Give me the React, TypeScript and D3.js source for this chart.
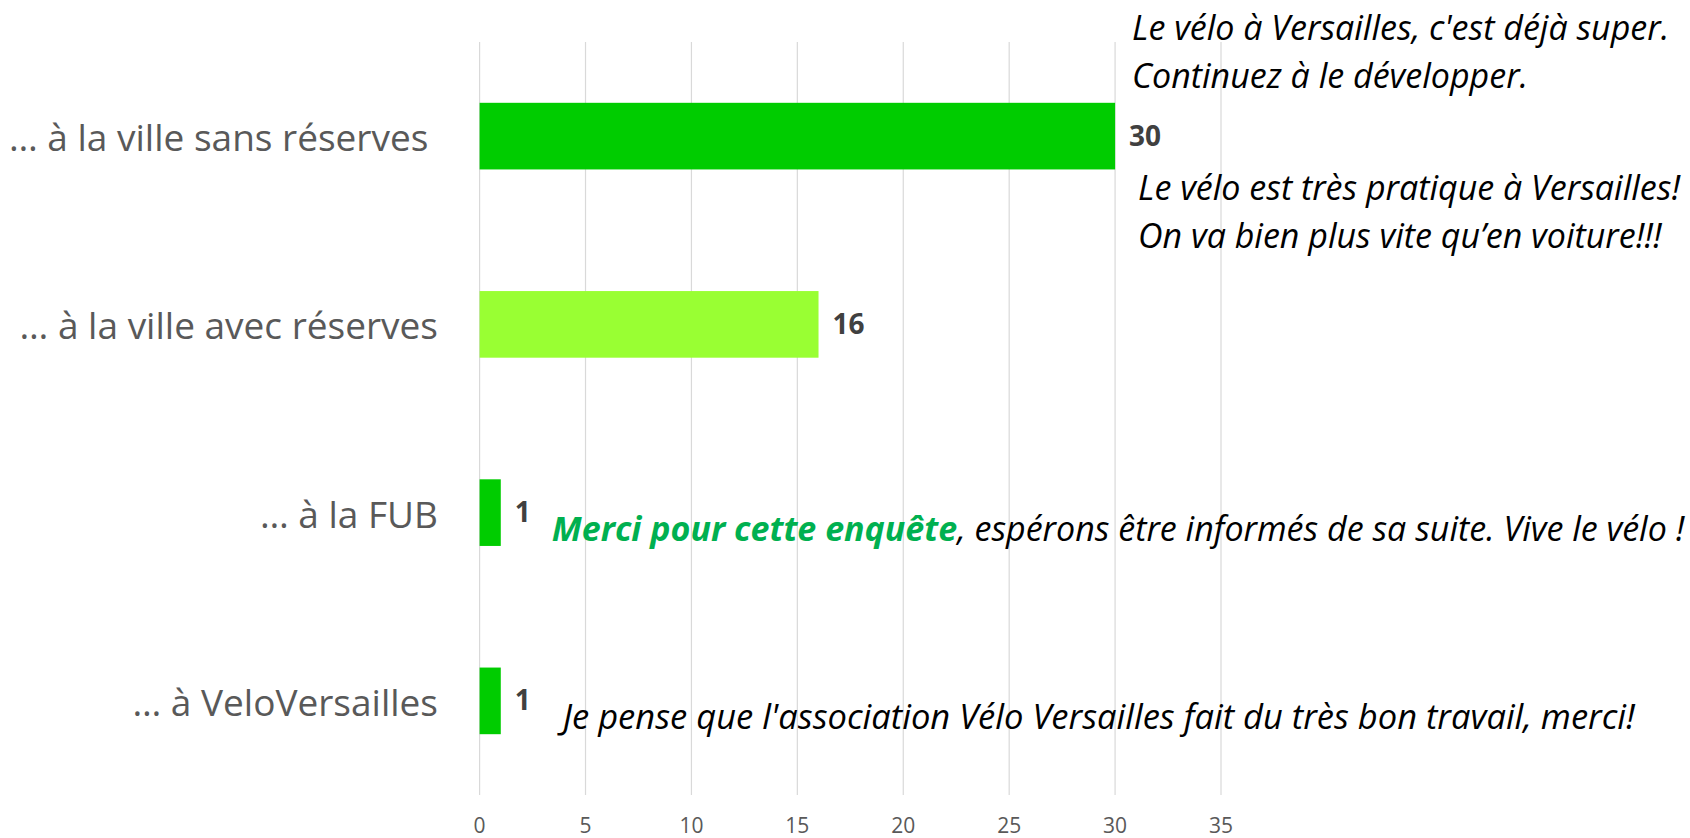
import React from "react";
import * as d3 from "d3";

const categories = [
  "… à la ville sans réserves\u00A0",
  "… à la ville avec réserves",
  "… à la FUB",
  "… à VeloVersailles",
];
const values = [30, 16, 1, 1];
const barColors = ["#00CC00", "#99FF33", "#00CC00", "#00CC00"];
const xTicks = [0, 5, 10, 15, 20, 25, 30, 35];

const comment1 = ["Le vélo à Versailles, c'est déjà super.", "Continuez à le développer."];
const comment2 = ["Le vélo est très pratique à Versailles!", "On va bien plus vite qu’en voiture!!!"];
const comment3Green = "Merci pour cette enquête";
const comment3Rest = ", espérons être informés de sa suite. Vive le vélo !";
const comment4 = "Je pense que l'association Vélo Versailles fait du très bon travail, merci!";

const W = 1690;
const H = 838;
const FONT = "'Open Sans', sans-serif";

export default function App() {
  const x = d3.scaleLinear().domain([0, 35]).range([479.6, 1221]);
  const y = d3
    .scaleBand<string>()
    .domain(categories)
    .range([42, 795])
    .paddingInner(0.646)
    .paddingOuter(0.323);
  const bw = y.bandwidth();
  const cy = (i: number) => (y(categories[i]) as number) + bw / 2;

  return (
    <svg
      width={W}
      height={H}
      style={{ position: "absolute", left: 0, top: 0, background: "#fff" }}
      fontFamily={FONT}
    >
      {xTicks.map((t) => (
        <line key={"g" + t} x1={x(t)} x2={x(t)} y1={42} y2={795} stroke="#d9d9d9" strokeWidth={1.2} />
      ))}
      {xTicks.map((t) => (
        <text key={"t" + t} x={x(t)} y={827} textAnchor="middle" dominantBaseline="middle" fontSize={21} fill="#595959">
          {t}
        </text>
      ))}
      {categories.map((c, i) => (
        <g key={c}>
          <rect x={x(0)} y={y(c)} width={x(values[i]) - x(0)} height={bw} fill={barColors[i]} />
          <text
            x={438}
            y={cy(i) + 5}
            textAnchor="end"
            dominantBaseline="middle"
            fontSize={37}
            fill="#595959"
            style={{ whiteSpace: "pre" }}
          >
            {c}
          </text>
          <text
            x={x(values[i]) + 14}
            y={cy(i) + 2}
            dominantBaseline="middle"
            fontSize={28}
            fontWeight="bold"
            fill="#404040"
          >
            {values[i]}
          </text>
        </g>
      ))}
      <g fontStyle="italic" fontSize={34} fill="#000">
        {comment1.map((s, k) => (
          <text key={"c1" + k} x={x(values[0]) + 17} y={cy(0) - 105 + k * 47.6} dominantBaseline="middle">
            {s}
          </text>
        ))}
        {comment2.map((s, k) => (
          <text key={"c2" + k} x={x(values[0]) + 23} y={cy(0) + 54.7 + k * 47.6} dominantBaseline="middle">
            {s}
          </text>
        ))}
        <text x={x(values[2]) + 51} y={cy(2) + 19.4} dominantBaseline="middle">
          <tspan fill="#00B050" fontWeight="bold">{comment3Green}</tspan>
          <tspan>{comment3Rest}</tspan>
        </text>
        <text x={x(values[3]) + 62} y={cy(3) + 19} dominantBaseline="middle" fontSize={34.5}>
          {comment4}
        </text>
      </g>
    </svg>
  );
}
